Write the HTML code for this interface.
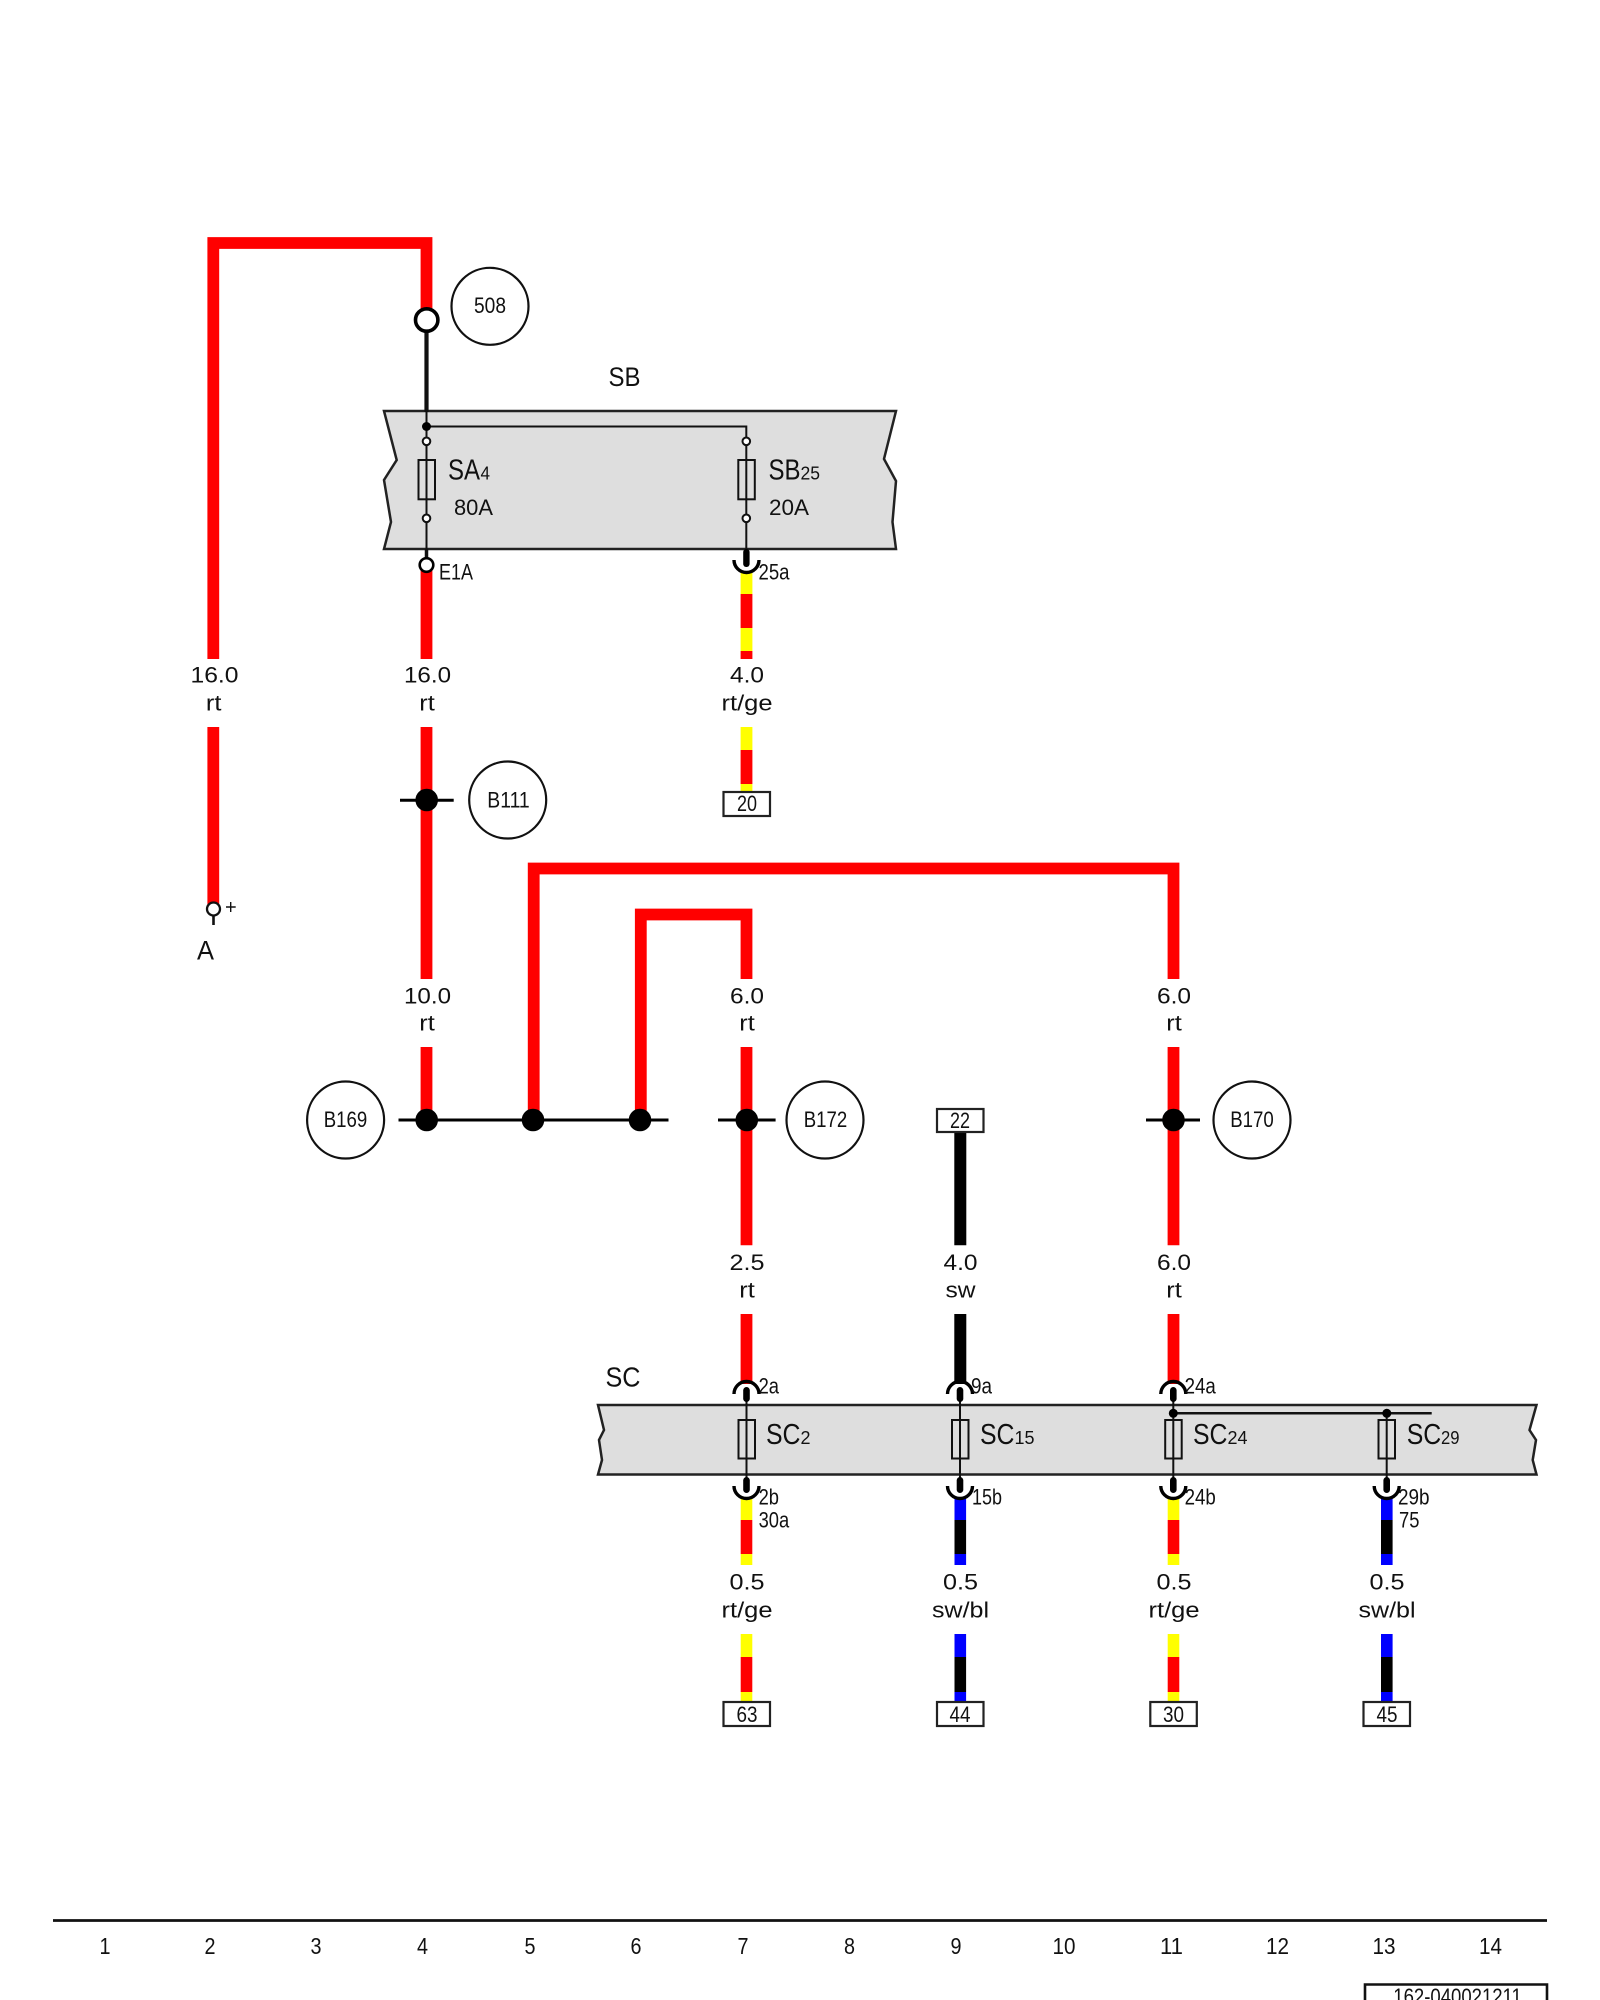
<!DOCTYPE html>
<html><head><meta charset="utf-8"><style>
html,body{margin:0;padding:0;background:#fff}
svg{display:block}
text{font-family:"Liberation Sans",sans-serif;fill:#111}
.m{text-anchor:middle}
.n{font-size:22.5px}
.t{font-size:22.5px}
.f{font-size:29px}
.s{font-size:18px}
.p{font-size:23px}
</style></head><body>
<svg width="1600" height="2000" viewBox="0 0 1600 2000" xmlns="http://www.w3.org/2000/svg">
<rect width="1600" height="2000" fill="#fff"/>

<!-- SB box -->
<path d="M384 411 L896 411 L884 459 L896 481 L892.5 522 L896 549 L384 549 L391 522 L384 480 L396.7 460 Z" fill="#dedede" stroke="#222" stroke-width="2.5"/>
<!-- SC box -->
<path d="M598 1405 L1536.5 1405 L1529.5 1430 L1536 1440 L1532.7 1460 L1536.5 1474.5 L598 1474.5 L602 1460 L599 1440 L604 1430 Z" fill="#dedede" stroke="#222" stroke-width="2.5"/>

<!-- Red wires -->
<g fill="none" stroke="#f00" stroke-width="11.8" stroke-linejoin="miter">
<path d="M213.3 659 V243 H426.5 V310"/>
<path d="M213.3 727 V905"/>
<path d="M426.5 568 V659"/>
<path d="M426.5 727 V979"/>
<path d="M426.5 1047 V1120"/>
<path d="M533.7 1120 V868.5 H1173.5 V979"/>
<path d="M640.8 1120 V914.5 H746.5 V979"/>
<path d="M746.5 1047 V1245.3"/>
<path d="M1173.5 1047 V1245.3"/>
<path d="M746.5 1314 V1384"/>
<path d="M1173.5 1314 V1384"/>
</g>
<!-- Black wire -->
<path d="M960.3 1132 V1245.3 M960.3 1314 V1384" stroke="#000" stroke-width="12" fill="none"/>

<!-- 25a wire -->
<rect x="740.6" y="572" width="11.8" height="22" fill="#ff0"/>
<rect x="740.6" y="594" width="11.8" height="34" fill="#f00"/>
<rect x="740.6" y="628" width="11.8" height="23" fill="#ff0"/>
<rect x="740.6" y="651" width="11.8" height="8" fill="#f00"/>
<rect x="740.6" y="727" width="11.8" height="23" fill="#ff0"/>
<rect x="740.6" y="750" width="11.8" height="34" fill="#f00"/>
<rect x="740.6" y="784" width="11.8" height="8" fill="#ff0"/>

<!-- 0.5 wires -->
<g>
<rect x="740.7" y="1498" width="11.6" height="22" fill="#ff0"/><rect x="740.7" y="1520" width="11.6" height="34" fill="#f00"/><rect x="740.7" y="1554" width="11.6" height="11" fill="#ff0"/>
<rect x="740.7" y="1634" width="11.6" height="23" fill="#ff0"/><rect x="740.7" y="1657" width="11.6" height="35" fill="#f00"/><rect x="740.7" y="1692" width="11.6" height="10" fill="#ff0"/>
<rect x="1167.7" y="1498" width="11.6" height="22" fill="#ff0"/><rect x="1167.7" y="1520" width="11.6" height="34" fill="#f00"/><rect x="1167.7" y="1554" width="11.6" height="11" fill="#ff0"/>
<rect x="1167.7" y="1634" width="11.6" height="23" fill="#ff0"/><rect x="1167.7" y="1657" width="11.6" height="35" fill="#f00"/><rect x="1167.7" y="1692" width="11.6" height="10" fill="#ff0"/>
<rect x="954.5" y="1498" width="11.6" height="22" fill="#00f"/><rect x="954.5" y="1520" width="11.6" height="34" fill="#000"/><rect x="954.5" y="1554" width="11.6" height="11" fill="#00f"/>
<rect x="954.5" y="1634" width="11.6" height="23" fill="#00f"/><rect x="954.5" y="1657" width="11.6" height="35" fill="#000"/><rect x="954.5" y="1692" width="11.6" height="10" fill="#00f"/>
<rect x="1381" y="1498" width="11.6" height="22" fill="#00f"/><rect x="1381" y="1520" width="11.6" height="34" fill="#000"/><rect x="1381" y="1554" width="11.6" height="11" fill="#00f"/>
<rect x="1381" y="1634" width="11.6" height="23" fill="#00f"/><rect x="1381" y="1657" width="11.6" height="35" fill="#000"/><rect x="1381" y="1692" width="11.6" height="10" fill="#00f"/>
</g>

<!-- Top node 508 -->
<path d="M426.5 330 V412" stroke="#111" stroke-width="4.2"/>
<circle cx="426.7" cy="320" r="11.2" fill="#fff" stroke="#000" stroke-width="3.6"/>
<circle cx="490" cy="306.3" r="38.5" fill="#fff" stroke="#111" stroke-width="2.2"/>
<text x="490" y="313" class="t m" textLength="32" lengthAdjust="spacingAndGlyphs">508</text>

<!-- SB internals -->
<path d="M426.5 411 V558 M426.5 426.5 H746.3 V553" stroke="#111" stroke-width="2" fill="none"/>
<path d="M426.5 549 V560" stroke="#111" stroke-width="3.5"/>
<circle cx="426.5" cy="426.5" r="4.5" fill="#000"/>
<g fill="none" stroke="#111" stroke-width="2">
<circle cx="426.5" cy="441.3" r="3.8" fill="#fff"/>
<circle cx="426.5" cy="518.3" r="3.8" fill="#fff"/>
<circle cx="746.3" cy="441.3" r="3.8" fill="#fff"/>
<circle cx="746.3" cy="518.3" r="3.8" fill="#fff"/>
<rect x="418.5" y="460" width="16.5" height="39.3"/>
<rect x="738.3" y="460" width="16.5" height="39.3"/>
</g>
<circle cx="426.5" cy="565" r="6.8" fill="#fff" stroke="#000" stroke-width="2.6"/>
<rect x="743.2" y="549" width="6.4" height="18" rx="3" fill="#000"/>
<path d="M734 560 A12.5 12.5 0 0 0 759 560" fill="none" stroke="#000" stroke-width="3.4"/>

<text x="448" y="479.3" class="f" textLength="32" lengthAdjust="spacingAndGlyphs">SA</text>
<text x="480.5" y="479.3" class="s" textLength="9.5" lengthAdjust="spacingAndGlyphs">4</text>
<text x="454" y="515" class="t" textLength="39" lengthAdjust="spacingAndGlyphs">80A</text>
<text x="768.5" y="479.3" class="f" textLength="32" lengthAdjust="spacingAndGlyphs">SB</text>
<text x="800.5" y="479.3" class="s" textLength="19.5" lengthAdjust="spacingAndGlyphs">25</text>
<text x="769" y="515" class="t" textLength="40" lengthAdjust="spacingAndGlyphs">20A</text>
<text x="608.5" y="386" font-size="27" textLength="32" lengthAdjust="spacingAndGlyphs">SB</text>
<text x="439" y="579.3" class="t" textLength="34" lengthAdjust="spacingAndGlyphs">E1A</text>
<text x="758.5" y="579.3" class="t" textLength="31" lengthAdjust="spacingAndGlyphs">25a</text>

<!-- Wire labels -->
<text x="214.5" y="682.7" class="n m" textLength="48" lengthAdjust="spacingAndGlyphs">16.0</text>
<text x="213.7" y="710.7" class="n m" textLength="15.5" lengthAdjust="spacingAndGlyphs">rt</text>
<text x="427.5" y="682.7" class="n m" textLength="47" lengthAdjust="spacingAndGlyphs">16.0</text>
<text x="427" y="710.7" class="n m" textLength="15.5" lengthAdjust="spacingAndGlyphs">rt</text>
<text x="747" y="682.7" class="n m" textLength="34" lengthAdjust="spacingAndGlyphs">4.0</text>
<text x="747" y="710.7" class="n m" textLength="51" lengthAdjust="spacingAndGlyphs">rt/ge</text>

<text x="427.5" y="1003.3" class="n m" textLength="47" lengthAdjust="spacingAndGlyphs">10.0</text>
<text x="427" y="1030.7" class="n m" textLength="15.5" lengthAdjust="spacingAndGlyphs">rt</text>
<text x="747" y="1003.3" class="n m" textLength="34" lengthAdjust="spacingAndGlyphs">6.0</text>
<text x="747" y="1030.7" class="n m" textLength="15.5" lengthAdjust="spacingAndGlyphs">rt</text>
<text x="1174" y="1003.3" class="n m" textLength="34" lengthAdjust="spacingAndGlyphs">6.0</text>
<text x="1174" y="1030.7" class="n m" textLength="15.5" lengthAdjust="spacingAndGlyphs">rt</text>

<text x="747" y="1270" class="n m" textLength="35" lengthAdjust="spacingAndGlyphs">2.5</text>
<text x="747" y="1297.7" class="n m" textLength="15.5" lengthAdjust="spacingAndGlyphs">rt</text>
<text x="960.5" y="1270" class="n m" textLength="34" lengthAdjust="spacingAndGlyphs">4.0</text>
<text x="960.5" y="1297.7" class="n m" textLength="30" lengthAdjust="spacingAndGlyphs">sw</text>
<text x="1174" y="1270" class="n m" textLength="34" lengthAdjust="spacingAndGlyphs">6.0</text>
<text x="1174" y="1297.7" class="n m" textLength="15.5" lengthAdjust="spacingAndGlyphs">rt</text>

<text x="747" y="1589.3" class="n m" textLength="35" lengthAdjust="spacingAndGlyphs">0.5</text>
<text x="747" y="1617.3" class="n m" textLength="51" lengthAdjust="spacingAndGlyphs">rt/ge</text>
<text x="960.5" y="1589.3" class="n m" textLength="35" lengthAdjust="spacingAndGlyphs">0.5</text>
<text x="960.5" y="1617.3" class="n m" textLength="57" lengthAdjust="spacingAndGlyphs">sw/bl</text>
<text x="1174" y="1589.3" class="n m" textLength="35" lengthAdjust="spacingAndGlyphs">0.5</text>
<text x="1174" y="1617.3" class="n m" textLength="51" lengthAdjust="spacingAndGlyphs">rt/ge</text>
<text x="1387" y="1589.3" class="n m" textLength="35" lengthAdjust="spacingAndGlyphs">0.5</text>
<text x="1387" y="1617.3" class="n m" textLength="57" lengthAdjust="spacingAndGlyphs">sw/bl</text>

<!-- Box 20 -->
<rect x="723.5" y="792" width="46.5" height="24" fill="#fff" stroke="#222" stroke-width="2.2"/>
<text x="747" y="811" class="t m" textLength="20" lengthAdjust="spacingAndGlyphs">20</text>

<!-- A terminal -->
<path d="M213.5 914 V925" stroke="#111" stroke-width="2.6"/>
<circle cx="213.5" cy="909" r="6.5" fill="#fff" stroke="#111" stroke-width="2.3"/>
<path d="M230.7 902 V912 M226 907 H235.7" stroke="#111" stroke-width="1.4"/>
<text x="197" y="959.3" font-size="27" textLength="17" lengthAdjust="spacingAndGlyphs">A</text>

<!-- splice lines -->
<path d="M400 800.3 H453.7 M398.5 1120 H668.5 M718 1120 H775.6 M1146 1120 H1200" stroke="#000" stroke-width="3" fill="none"/>
<g fill="#000">
<circle cx="426.7" cy="800" r="11.3"/>
<circle cx="426.7" cy="1120" r="11.3"/>
<circle cx="533" cy="1120" r="11.3"/>
<circle cx="640" cy="1120" r="11.3"/>
<circle cx="746.8" cy="1120" r="11.3"/>
<circle cx="1173.5" cy="1120" r="11.3"/>
</g>
<g fill="#fff" stroke="#111" stroke-width="2.2">
<circle cx="507.7" cy="800" r="38.5"/>
<circle cx="345.6" cy="1120" r="38.5"/>
<circle cx="825" cy="1120" r="38.5"/>
<circle cx="1252" cy="1120" r="38.5"/>
</g>
<text x="508.5" y="807.5" class="t m" textLength="42.5" lengthAdjust="spacingAndGlyphs">B111</text>
<text x="345.5" y="1127" class="t m" textLength="43.5" lengthAdjust="spacingAndGlyphs">B169</text>
<text x="825.5" y="1127" class="t m" textLength="43.5" lengthAdjust="spacingAndGlyphs">B172</text>
<text x="1252" y="1127" class="t m" textLength="43.5" lengthAdjust="spacingAndGlyphs">B170</text>

<!-- Box 22 -->
<rect x="937" y="1109" width="46.5" height="23" fill="#fff" stroke="#222" stroke-width="2.2"/>
<text x="960" y="1128" class="t m" textLength="20" lengthAdjust="spacingAndGlyphs">22</text>

<!-- SC internals -->
<g stroke="#111" stroke-width="2" fill="none">
<path d="M746.5 1395 V1485 M960 1395 V1485 M1173.3 1395 V1485 M1386.7 1413 V1485"/>
<path d="M1173.3 1413.3 H1431.7" stroke-width="2.5"/>
<rect x="738.5" y="1420" width="16.5" height="38.5"/>
<rect x="952" y="1420" width="16.5" height="38.5"/>
<rect x="1165.2" y="1420" width="16.5" height="38.5"/>
<rect x="1378.5" y="1420" width="16.5" height="38.5"/>
</g>
<g fill="#000">
<circle cx="1173.3" cy="1413.3" r="4.5"/>
<circle cx="1386.8" cy="1413.3" r="4.5"/>
<rect x="743.2" y="1387" width="6.6" height="15" rx="3.3"/>
<rect x="956.7" y="1387" width="6.6" height="15" rx="3.3"/>
<rect x="1170" y="1387" width="6.6" height="15" rx="3.3"/>
<rect x="743.2" y="1477" width="6.6" height="16" rx="3.3"/>
<rect x="956.7" y="1477" width="6.6" height="16" rx="3.3"/>
<rect x="1170" y="1477" width="6.6" height="16" rx="3.3"/>
<rect x="1383.4" y="1477" width="6.6" height="16" rx="3.3"/>
</g>
<g fill="none" stroke="#000" stroke-width="3.4">
<path d="M734 1394 A12.5 12.5 0 0 1 759 1394"/>
<path d="M947.5 1394 A12.5 12.5 0 0 1 972.5 1394"/>
<path d="M1160.8 1394 A12.5 12.5 0 0 1 1185.8 1394"/>
<path d="M734 1486 A12.5 12.5 0 0 0 759 1486"/>
<path d="M947.5 1486 A12.5 12.5 0 0 0 972.5 1486"/>
<path d="M1160.8 1486 A12.5 12.5 0 0 0 1185.8 1486"/>
<path d="M1374.2 1486 A12.5 12.5 0 0 0 1399.2 1486"/>
</g>

<text x="605.5" y="1386.7" font-size="28" textLength="35" lengthAdjust="spacingAndGlyphs">SC</text>
<text x="758.6" y="1393.3" class="t" textLength="20.4" lengthAdjust="spacingAndGlyphs">2a</text>
<text x="971" y="1393.3" class="t" textLength="21" lengthAdjust="spacingAndGlyphs">9a</text>
<text x="1184.6" y="1393.3" class="t" textLength="31.2" lengthAdjust="spacingAndGlyphs">24a</text>
<text x="758.6" y="1504.3" class="t" textLength="20.4" lengthAdjust="spacingAndGlyphs">2b</text>
<text x="758.6" y="1527.7" class="t" textLength="30.6" lengthAdjust="spacingAndGlyphs">30a</text>
<text x="972" y="1504.3" class="t" textLength="30" lengthAdjust="spacingAndGlyphs">15b</text>
<text x="1184.6" y="1504.3" class="t" textLength="31.2" lengthAdjust="spacingAndGlyphs">24b</text>
<text x="1398" y="1504.3" class="t" textLength="31.5" lengthAdjust="spacingAndGlyphs">29b</text>
<text x="1399" y="1527.7" class="t" textLength="20.4" lengthAdjust="spacingAndGlyphs">75</text>

<text x="766" y="1444" class="f" textLength="34.5" lengthAdjust="spacingAndGlyphs">SC</text>
<text x="800.5" y="1444" class="s" textLength="10" lengthAdjust="spacingAndGlyphs">2</text>
<text x="980" y="1444" class="f" textLength="34.5" lengthAdjust="spacingAndGlyphs">SC</text>
<text x="1014.5" y="1444" class="s" textLength="20" lengthAdjust="spacingAndGlyphs">15</text>
<text x="1193" y="1444" class="f" textLength="34.5" lengthAdjust="spacingAndGlyphs">SC</text>
<text x="1227.5" y="1444" class="s" textLength="20" lengthAdjust="spacingAndGlyphs">24</text>
<text x="1406.7" y="1444" class="f" textLength="34.5" lengthAdjust="spacingAndGlyphs">SC</text>
<text x="1441" y="1444" class="s" textLength="18.5" lengthAdjust="spacingAndGlyphs">29</text>

<!-- Terminal boxes -->
<g fill="#fff" stroke="#222" stroke-width="2.2">
<rect x="723.5" y="1702" width="46.5" height="24"/>
<rect x="937" y="1702" width="46.5" height="24"/>
<rect x="1150.3" y="1702" width="46.5" height="24"/>
<rect x="1363.5" y="1702" width="46.5" height="24"/>
</g>
<text x="747" y="1722" class="t m" textLength="21" lengthAdjust="spacingAndGlyphs">63</text>
<text x="960" y="1722" class="t m" textLength="21" lengthAdjust="spacingAndGlyphs">44</text>
<text x="1173.5" y="1722" class="t m" textLength="21" lengthAdjust="spacingAndGlyphs">30</text>
<text x="1387" y="1722" class="t m" textLength="21" lengthAdjust="spacingAndGlyphs">45</text>

<!-- Footer -->
<path d="M53 1920.5 H1547" stroke="#111" stroke-width="2.7"/>
<text x="105" y="1954" class="p m" textLength="11" lengthAdjust="spacingAndGlyphs">1</text>
<text x="210" y="1954" class="p m" textLength="11" lengthAdjust="spacingAndGlyphs">2</text>
<text x="316" y="1954" class="p m" textLength="11" lengthAdjust="spacingAndGlyphs">3</text>
<text x="422.5" y="1954" class="p m" textLength="11" lengthAdjust="spacingAndGlyphs">4</text>
<text x="530" y="1954" class="p m" textLength="11" lengthAdjust="spacingAndGlyphs">5</text>
<text x="636" y="1954" class="p m" textLength="11" lengthAdjust="spacingAndGlyphs">6</text>
<text x="743" y="1954" class="p m" textLength="11" lengthAdjust="spacingAndGlyphs">7</text>
<text x="849.5" y="1954" class="p m" textLength="11" lengthAdjust="spacingAndGlyphs">8</text>
<text x="956" y="1954" class="p m" textLength="11" lengthAdjust="spacingAndGlyphs">9</text>
<text x="1064" y="1954" class="p m" textLength="23" lengthAdjust="spacingAndGlyphs">10</text>
<text x="1171.5" y="1954" class="p m" textLength="23" lengthAdjust="spacingAndGlyphs">11</text>
<text x="1277.5" y="1954" class="p m" textLength="23" lengthAdjust="spacingAndGlyphs">12</text>
<text x="1384" y="1954" class="p m" textLength="23" lengthAdjust="spacingAndGlyphs">13</text>
<text x="1490.5" y="1954" class="p m" textLength="23" lengthAdjust="spacingAndGlyphs">14</text>
<path d="M1365 2002 V1984.5 H1547 V2002" fill="none" stroke="#111" stroke-width="2.6"/>
<text x="1393.3" y="2004" class="t" textLength="128.5" lengthAdjust="spacingAndGlyphs">162-040021211</text>
</svg>
</body></html>
